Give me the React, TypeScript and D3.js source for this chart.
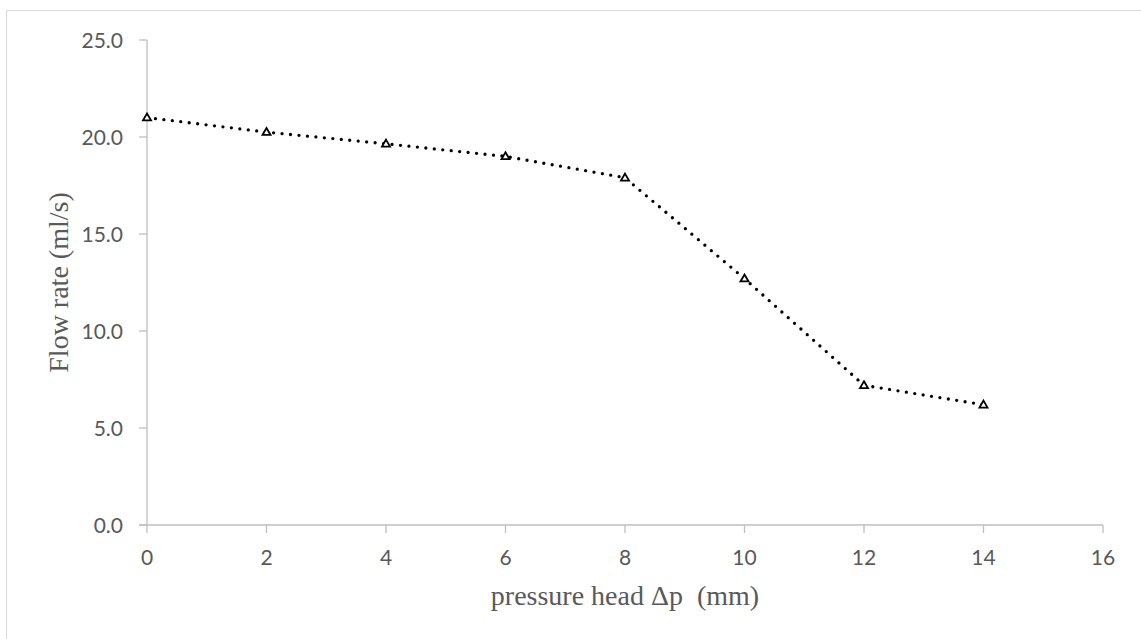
import React from "react";
import * as d3 from "d3";

// Measured flow rate against pressure head
const pressureHead = [0, 2, 4, 6, 8, 10, 12, 14];
const flowRate = [21.0, 20.25, 19.65, 19.0, 17.9, 12.7, 7.2, 6.2];
const xTicks = [0, 2, 4, 6, 8, 10, 12, 14, 16];
const yTicks = [0, 5, 10, 15, 20, 25];
const xTitle = "pressure head \u0394p  (mm)";
const yTitle = "Flow rate (ml/s)";

const W = 1141;
const H = 639;
const plot = { left: 147, right: 1103, top: 40, bottom: 525 };

export default function App() {
  const x = d3.scaleLinear().domain([0, 16]).range([plot.left, plot.right]);
  const y = d3.scaleLinear().domain([0, 25]).range([plot.bottom, plot.top]);
  const pts = pressureHead.map((p, i) => [p, flowRate[i]] as [number, number]);
  const line = d3
    .line<[number, number]>()
    .x((d) => x(d[0]))
    .y((d) => y(d[1]));
  const tri = d3.symbol().type(d3.symbolTriangle).size(28)() as string;
  const axisColor = "#bfbfbf";
  const labelColor = "#595959";
  const sans = "Lato, 'Open Sans', sans-serif";
  const serif = "'Liberation Serif', 'Times New Roman', serif";

  return (
    <svg
      width={W}
      height={H}
      style={{ position: "absolute", left: 0, top: 0, background: "#fff" }}
    >
      <rect x={6.5} y={10.5} width={W + 20} height={H + 20} fill="#fff" stroke="#d9d9d9" strokeWidth={1} />

      {/* y axis */}
      <line x1={plot.left} x2={plot.left} y1={plot.top} y2={plot.bottom} stroke={axisColor} strokeWidth={1.3} />
      {yTicks.map((t) => (
        <g key={"y" + t}>
          <line x1={plot.left - 8} x2={plot.left} y1={y(t)} y2={y(t)} stroke={axisColor} strokeWidth={1.3} />
          <text
            x={123}
            y={y(t)}
            dy="0.36em"
            textAnchor="end"
            fontFamily={sans}
            fontSize={21}
            fill={labelColor}
          >
            {t.toFixed(1)}
          </text>
        </g>
      ))}

      {/* x axis */}
      <line x1={plot.left - 8} x2={plot.right} y1={plot.bottom} y2={plot.bottom} stroke={axisColor} strokeWidth={1.3} />
      {xTicks.map((t) => (
        <g key={"x" + t}>
          <line x1={x(t)} x2={x(t)} y1={plot.bottom} y2={plot.bottom + 8} stroke={axisColor} strokeWidth={1.3} />
          <text
            x={x(t)}
            y={565}
            textAnchor="middle"
            fontFamily={sans}
            fontSize={21}
            fill={labelColor}
          >
            {t}
          </text>
        </g>
      ))}

      {/* axis titles */}
      <text
        x={(plot.left + plot.right) / 2}
        y={605}
        textAnchor="middle"
        fontFamily={serif}
        fontSize={28}
        fill={labelColor}
        style={{ whiteSpace: "pre" }}
      >
        {xTitle}
      </text>
      <text
        transform={`translate(68, ${(plot.top + plot.bottom) / 2}) rotate(-90)`}
        textAnchor="middle"
        fontFamily={serif}
        fontSize={28}
        fill={labelColor}
      >
        {yTitle}
      </text>

      {/* data series */}
      <path
        d={line(pts) as string}
        fill="none"
        stroke="#000"
        strokeWidth={3.3}
        strokeLinecap="round"
        strokeDasharray="0 8.5"
      />
      {pts.map((d, i) => (
        <path
          key={"m" + i}
          d={tri}
          transform={`translate(${x(d[0])}, ${y(d[1]) + 0.5})`}
          fill="#fff"
          stroke="#000"
          strokeWidth={1.8}
        />
      ))}
    </svg>
  );
}
